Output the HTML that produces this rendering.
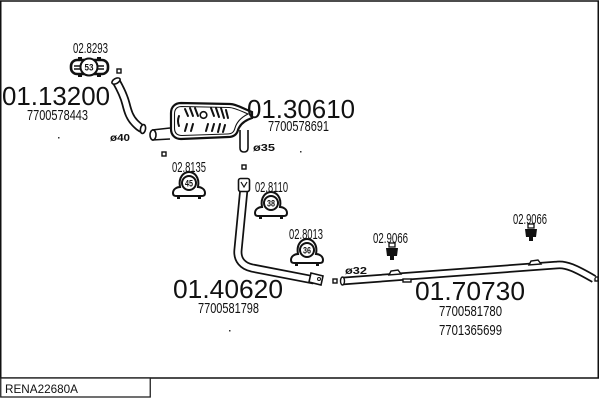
<!DOCTYPE html>
<html><head><meta charset="utf-8"><style>
html,body{margin:0;padding:0;background:#fff;}
svg{display:block;}
text{font-family:"Liberation Sans",Arial,sans-serif;fill:#111;}
</style></head><body>
<svg width="600" height="400" viewBox="0 0 600 400" xmlns="http://www.w3.org/2000/svg">
<!-- frame -->
<rect x="0.75" y="1" width="597.5" height="377" fill="none" stroke="#111" stroke-width="1.5"/>
<rect x="0.75" y="378" width="149.5" height="19" fill="#fff" stroke="#222" stroke-width="1.3"/>
<text x="5" y="393" font-size="12" textLength="73" lengthAdjust="spacingAndGlyphs">RENA22680A</text>

<!-- small squares -->
<g fill="#fff" stroke="#111" stroke-width="1.4">
<rect x="117" y="69" width="4" height="4"/>
<rect x="162" y="152" width="4" height="4"/>
<rect x="242" y="165" width="4" height="4"/>
<rect x="333" y="279" width="4" height="4"/>
<rect x="595" y="277" width="3" height="4"/>
</g>
<!-- dots -->
<g fill="#333"><rect x="58" y="137" width="1.5" height="1.5"/><rect x="300" y="151" width="1.5" height="1.5"/><rect x="229" y="330" width="1.5" height="1.5"/></g>

<!-- pipe 1 -->
<path d="M116,81 C120,88 124,96 126,104 C128,112 130,118 135,123 C138,126 140,128 143,129" fill="none" stroke="#111" stroke-width="9"/>
<path d="M116,81 C120,88 124,96 126,104 C128,112 130,118 135,123 C138,126 140,128 143,129" fill="none" stroke="#fff" stroke-width="5.5"/>
<ellipse cx="116" cy="81" rx="4.5" ry="2.5" transform="rotate(-30 116 81)" fill="#fff" stroke="#111" stroke-width="1.6"/>
<ellipse cx="143" cy="129" rx="2.5" ry="4.5" transform="rotate(10 143 129)" fill="#fff" stroke="#111" stroke-width="1.6"/>

<!-- muffler inlet stub -->
<path d="M152,130 L170,128 M152,140 L170,139" stroke="#111" stroke-width="1.6" fill="none"/>
<ellipse cx="153" cy="135" rx="3" ry="5" fill="#fff" stroke="#111" stroke-width="1.6"/>
<!-- muffler outlet tube -->
<path d="M240,130 L240,148 Q240,152 244,152 Q248,152 248,148 L248,130" fill="#fff" stroke="#111" stroke-width="1.6"/>
<!-- muffler body -->
<path d="M181,103 L230,104 C236,104 244,109 252,112 L252,118 C246,120 240,124 238,130 C237,134 234,137 228,137 L181,139 C175,139 171,135 171,129 L171,113 C171,107 175,103 181,103 Z" fill="#fff" stroke="#111" stroke-width="2.2"/>
<path d="M182,106.5 L229,107.5 C234,107.5 241,111 248,114 C242,117 237,121 235,128 C234,132 232,134 227,134 L182,135.5 C177,135.5 174.5,133 174.5,128 L174.5,114 C174.5,109 177,106.5 182,106.5 Z" fill="none" stroke="#111" stroke-width="1.1"/>
<g stroke="#111" stroke-width="2" fill="none" stroke-linecap="round">
<path d="M185,109 L188,116 M190,108 L193,116 M195,108 L198,116"/>
<path d="M211,108 L214,116 M216,108 L219,117 M221,108 L224,118 M226,110 L228,118"/>
<path d="M185,131 L187,124 M191,131 L193,124"/>
<path d="M206,131 L208,124 M212,131 L214,124 M218,132 L220,124 M223,132 L225,125"/>
<path d="M179,116 Q177,121 179,126"/>
</g>
<circle cx="203.5" cy="115" r="3.3" fill="#fff" stroke="#111" stroke-width="1.6"/>

<!-- pipe 2 -->
<path d="M244,188 L238,250 C237,260 243,266 252,268 L314,280" fill="none" stroke="#111" stroke-width="9"/>
<path d="M244,188 L238,250 C237,260 243,266 252,268 L314,280" fill="none" stroke="#fff" stroke-width="5.5"/>
<rect x="238.5" y="178.5" width="11" height="13" rx="2" fill="#fff" stroke="#111" stroke-width="1.6"/>
<path d="M241,182 L244,187 L247,182" fill="none" stroke="#111" stroke-width="1.2"/>
<path d="M311,273 L323,276 L321,285 L309,282 Z" fill="#fff" stroke="#111" stroke-width="1.6"/>
<circle cx="319" cy="279" r="1.5" fill="none" stroke="#111" stroke-width="1"/>

<!-- pipe 3 -->
<path d="M343,281 L557,265 C566,264 575,268 594,279" fill="none" stroke="#111" stroke-width="8.5"/>
<path d="M343,281 L557,265 C566,264 575,268 594,279" fill="none" stroke="#fff" stroke-width="5"/>
<ellipse cx="342.5" cy="281" rx="2" ry="4" fill="#fff" stroke="#111" stroke-width="1.4"/>
<g fill="#fff" stroke="#111" stroke-width="1.4">
<path d="M389,275 L391,271 L398,270 L401,274 Z"/>
<path d="M529,265 L531,261 L538,260 L541,264 Z"/>
<rect x="403" y="279" width="8" height="3"/>
</g>

<!-- band clamp 53 -->
<g transform="translate(89,67)">
<rect x="-18" y="-7" width="37" height="14" rx="6" fill="#fff" stroke="#111" stroke-width="2.6"/>
<path d="M-15,-1 H15 M-15,2 H15" stroke="#111" stroke-width="1.5"/>
<rect x="-11" y="-10" width="4" height="3" fill="#111"/><rect x="8" y="-10" width="4" height="3" fill="#111"/>
<rect x="-11" y="7" width="4" height="3" fill="#111"/><rect x="8" y="7" width="4" height="3" fill="#111"/>
<circle r="8.5" fill="#fff" stroke="#111" stroke-width="2"/>
<text x="0" y="3.5" font-size="9" font-weight="bold" text-anchor="middle" textLength="9" lengthAdjust="spacingAndGlyphs">53</text>
</g>

<!-- saddle clamps -->
<g transform="translate(189,183)">
<path d="M-16,10 C-16,6 -12,4 -9,4 C-11,-6 -5,-11 0,-11 C5,-11 11,-6 9,4 C12,4 16,6 16,10 C16,13 14,13 12,13 L-12,13 C-14,13 -16,13 -16,10 Z" fill="#fff" stroke="#111" stroke-width="2"/>
<rect x="-12" y="13" width="3" height="3" fill="#111"/><rect x="9" y="13" width="3" height="3" fill="#111"/>
<circle r="7" fill="#fff" stroke="#111" stroke-width="2"/>
<text x="0" y="3.5" font-size="9" font-weight="bold" text-anchor="middle" textLength="8" lengthAdjust="spacingAndGlyphs">45</text>
</g>
<g transform="translate(271,203)">
<path d="M-16,10 C-16,6 -12,4 -9,4 C-11,-6 -5,-11 0,-11 C5,-11 11,-6 9,4 C12,4 16,6 16,10 C16,13 14,13 12,13 L-12,13 C-14,13 -16,13 -16,10 Z" fill="#fff" stroke="#111" stroke-width="2"/>
<rect x="-12" y="13" width="3" height="3" fill="#111"/><rect x="9" y="13" width="3" height="3" fill="#111"/>
<circle r="7" fill="#fff" stroke="#111" stroke-width="2"/>
<text x="0" y="3.5" font-size="9" font-weight="bold" text-anchor="middle" textLength="8" lengthAdjust="spacingAndGlyphs">38</text>
</g>
<g transform="translate(307,250)">
<path d="M-16,10 C-16,6 -12,4 -9,4 C-11,-6 -5,-11 0,-11 C5,-11 11,-6 9,4 C12,4 16,6 16,10 C16,13 14,13 12,13 L-12,13 C-14,13 -16,13 -16,10 Z" fill="#fff" stroke="#111" stroke-width="2"/>
<rect x="-12" y="13" width="3" height="3" fill="#111"/><rect x="9" y="13" width="3" height="3" fill="#111"/>
<circle r="7" fill="#fff" stroke="#111" stroke-width="2"/>
<text x="0" y="3.5" font-size="9" font-weight="bold" text-anchor="middle" textLength="8" lengthAdjust="spacingAndGlyphs">36</text>
</g>

<!-- rubber hangers -->
<g transform="translate(392,251)">
<rect x="-3" y="-8" width="6" height="4" fill="#fff" stroke="#111" stroke-width="1.3"/>
<path d="M-6,-3 L6,-3 L5,5 L-5,5 Z" fill="#111"/>
<rect x="-2" y="5" width="4" height="4" fill="#111"/>
</g>
<g transform="translate(531,232)">
<rect x="-3" y="-8" width="6" height="4" fill="#fff" stroke="#111" stroke-width="1.3"/>
<path d="M-6,-3 L6,-3 L5,5 L-5,5 Z" fill="#111"/>
<rect x="-2" y="5" width="4" height="4" fill="#111"/>
</g>

<!-- big part numbers -->
<text x="2" y="105" font-size="26" textLength="108" lengthAdjust="spacingAndGlyphs">01.13200</text>
<text x="247" y="118" font-size="26" textLength="108" lengthAdjust="spacingAndGlyphs">01.30610</text>
<text x="173" y="298" font-size="26" textLength="110" lengthAdjust="spacingAndGlyphs">01.40620</text>
<text x="415" y="300" font-size="26" textLength="110" lengthAdjust="spacingAndGlyphs">01.70730</text>

<!-- OE numbers -->
<g font-size="15">
<text x="27" y="120" textLength="61" lengthAdjust="spacingAndGlyphs">7700578443</text>
<text x="268" y="131" textLength="61" lengthAdjust="spacingAndGlyphs">7700578691</text>
<text x="198" y="313" textLength="61" lengthAdjust="spacingAndGlyphs">7700581798</text>
<text x="439" y="316" textLength="63" lengthAdjust="spacingAndGlyphs">7700581780</text>
<text x="439" y="335" textLength="63" lengthAdjust="spacingAndGlyphs">7701365699</text>
</g>

<!-- clamp labels -->
<g font-size="15">
<text x="73" y="53" textLength="35" lengthAdjust="spacingAndGlyphs">02.8293</text>
<text x="172" y="172" textLength="34" lengthAdjust="spacingAndGlyphs">02.8135</text>
<text x="255" y="192" textLength="33" lengthAdjust="spacingAndGlyphs">02.8110</text>
<text x="289" y="239" textLength="34" lengthAdjust="spacingAndGlyphs">02.8013</text>
<text x="373" y="243" textLength="35" lengthAdjust="spacingAndGlyphs">02.9066</text>
<text x="513" y="224" textLength="34" lengthAdjust="spacingAndGlyphs">02.9066</text>
</g>

<!-- diameters -->
<g font-size="10" font-weight="bold">
<text x="110" y="141" textLength="20" lengthAdjust="spacingAndGlyphs">ø40</text>
<text x="253" y="151" textLength="22" lengthAdjust="spacingAndGlyphs">ø35</text>
<text x="345" y="274" textLength="22" lengthAdjust="spacingAndGlyphs">ø32</text>
</g>
</svg>
</body></html>
